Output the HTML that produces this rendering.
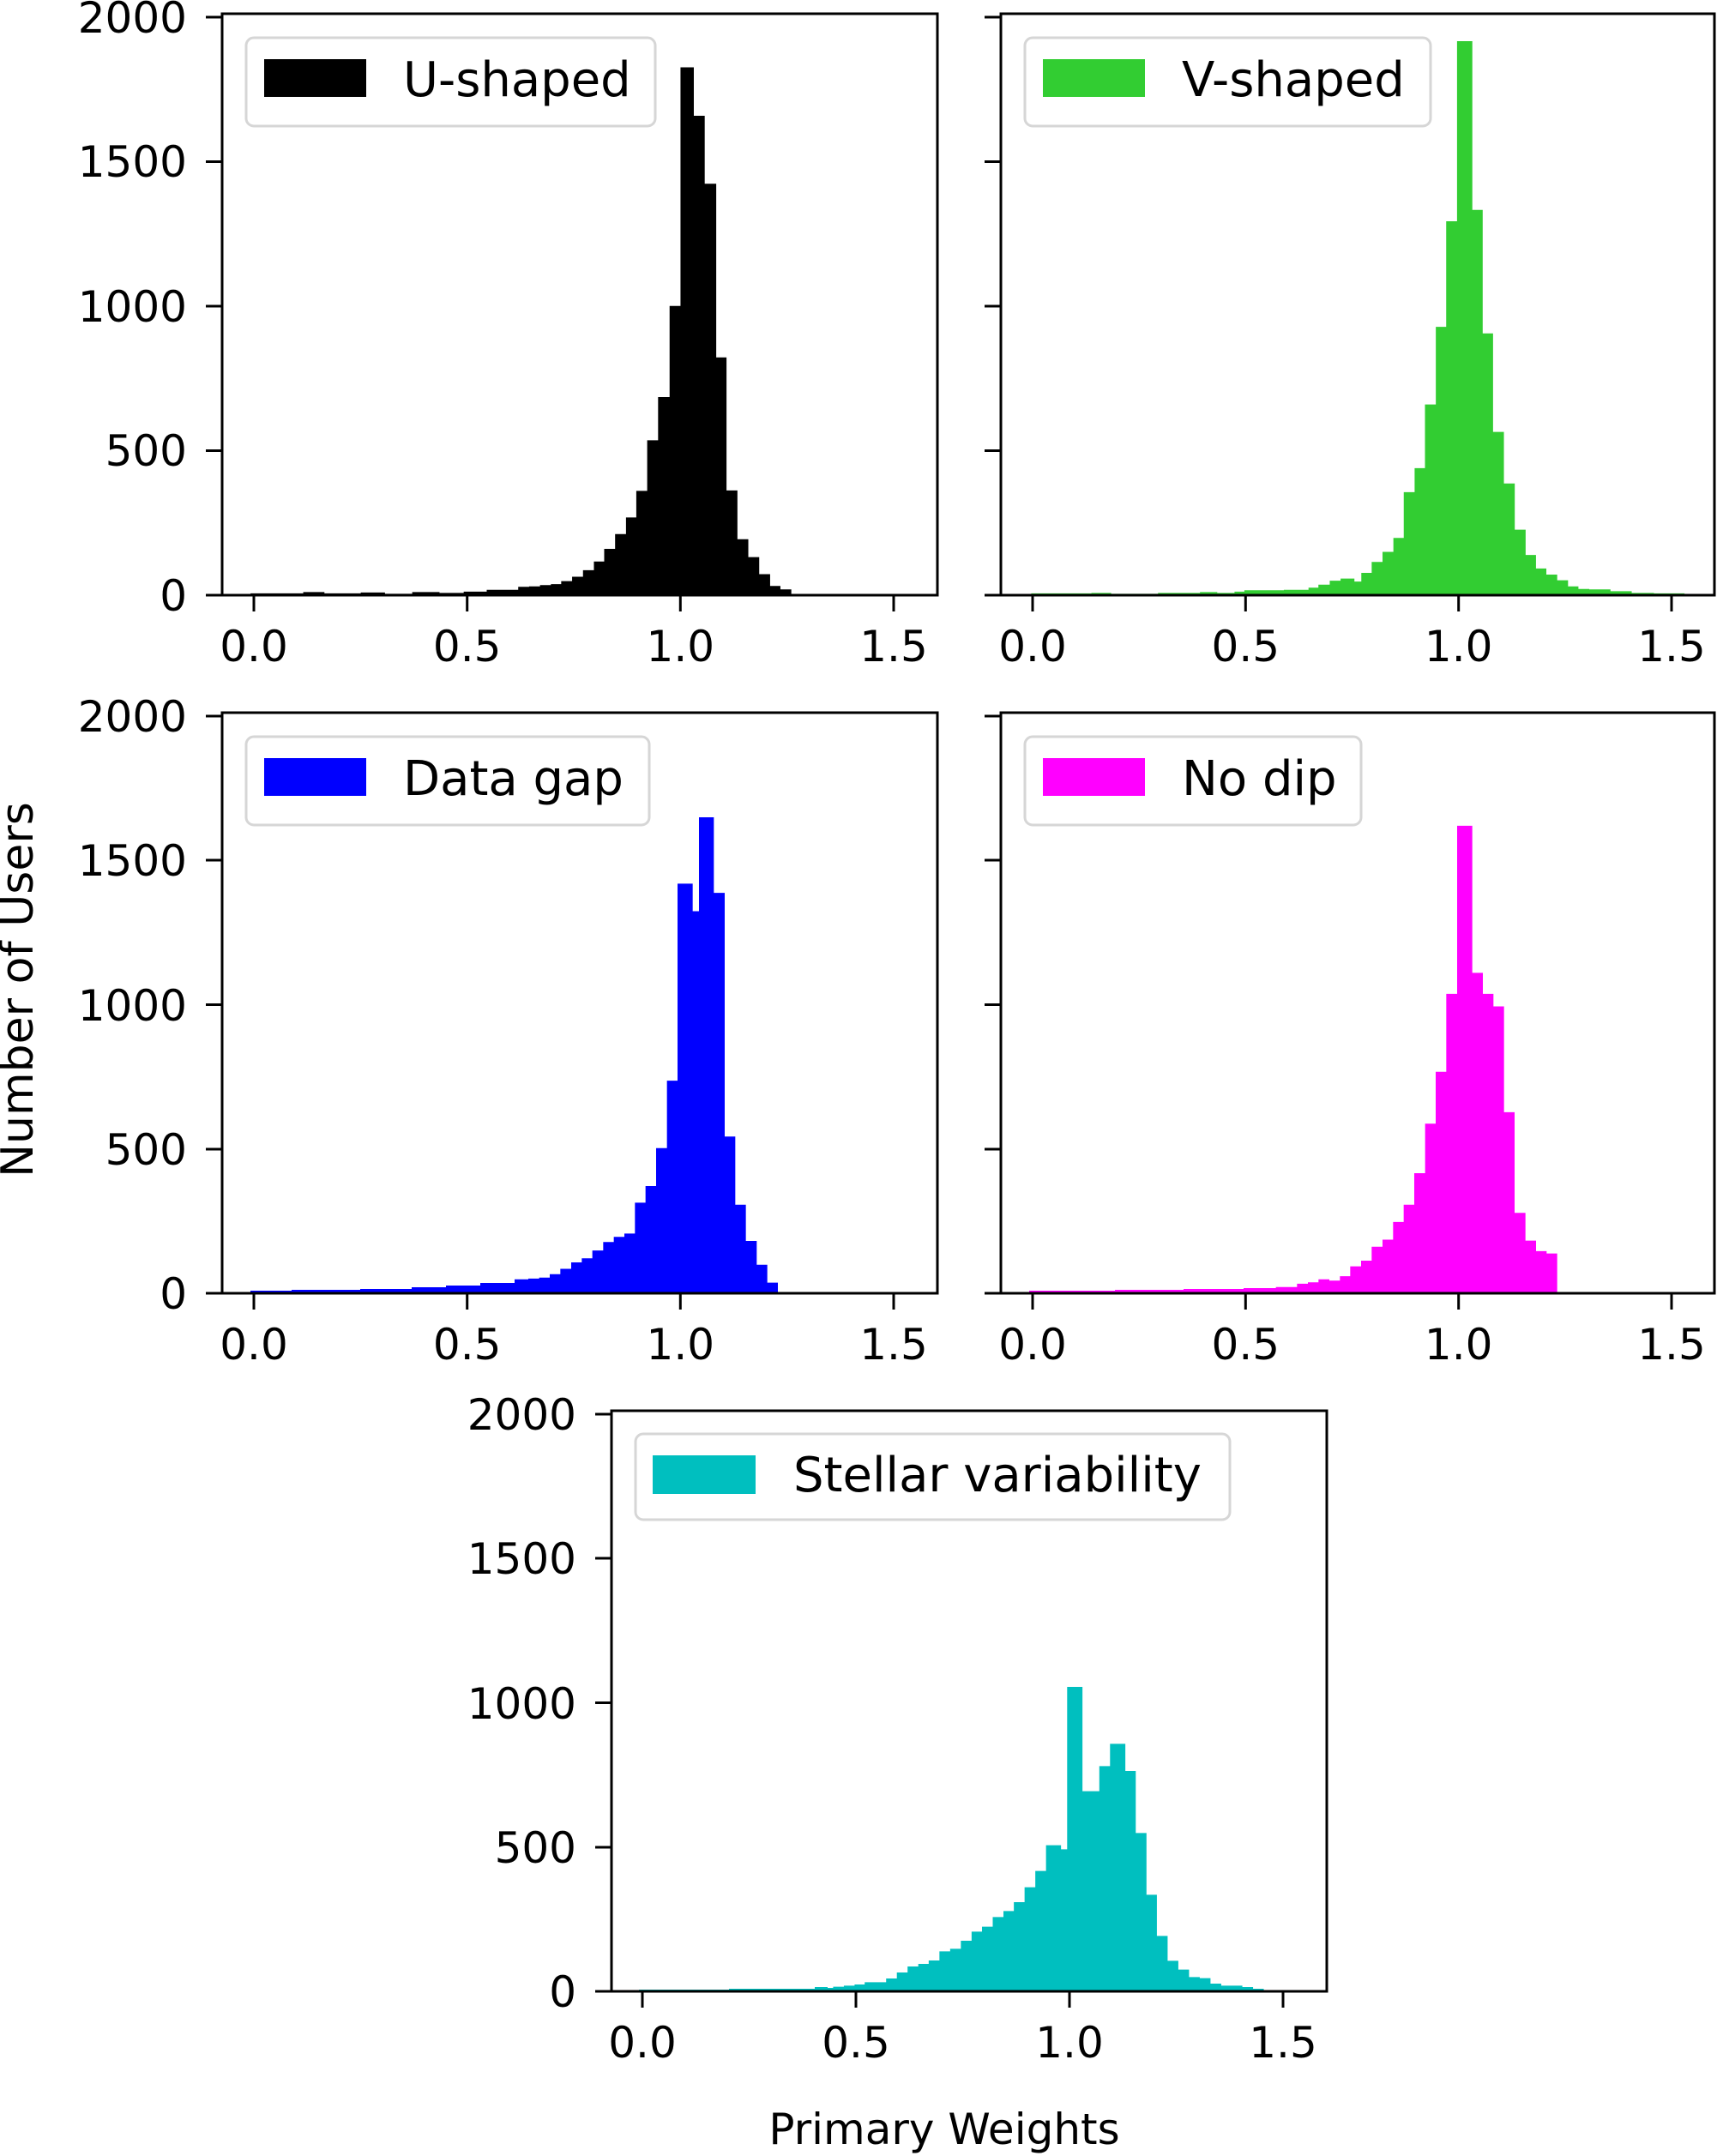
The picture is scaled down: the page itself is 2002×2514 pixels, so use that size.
<!DOCTYPE html>
<html><head><meta charset="utf-8"><style>
html,body{margin:0;padding:0;background:#fff;}
svg{display:block;}
text{font-family:"DejaVu Sans","Liberation Sans",sans-serif;fill:#000;}
.t{font-size:50px;}
.lg{font-size:56px;}
</style></head><body>
<svg width="2002" height="2514" viewBox="0 0 2002 2514" xmlns="http://www.w3.org/2000/svg">
<rect width="2002" height="2514" fill="#fff"/>

<g transform="translate(-3,2.2) scale(0.70607,0.5086)">
<path fill="#000" d="M 418 1360 V 1356 H 505 V 1353 H 540 V 1356 H 600 V 1354 H 640 V 1357 H 685 V 1353 H 730 V 1355 H 770 V 1352 H 808 V 1348 H 860 V 1341 H 878 V 1340 H 896 V 1337 H 914 V 1335 H 931 V 1328 H 949 V 1318 H 967 V 1303 H 985 V 1283 H 1002 V 1254 H 1020 V 1220 H 1038 V 1182 H 1055 V 1121 H 1073 V 1005 H 1091 V 906 H 1110 V 697 H 1128 V 150 H 1150 V 261 H 1168 V 417 H 1187 V 815 H 1204 V 1120 H 1222 V 1232 H 1240 V 1273 H 1258 V 1312 H 1276 V 1339 H 1293 V 1347 H 1311 V 1358 H 1500 V 1360 Z"/>
</g>
<g transform="translate(1100,2.2) scale(0.5753,0.5086)">
<path fill="#32cd32" d="M 178 1360 V 1356 H 300 V 1355 H 340 V 1357 H 435 V 1355 H 520 V 1353 H 555 V 1355 H 590 V 1352 H 610 V 1349 H 690 V 1348 H 740 V 1343 H 760 V 1336 H 783 V 1327 H 805 V 1322 H 833 V 1329 H 847 V 1309 H 868 V 1284 H 890 V 1261 H 912 V 1229 H 933 V 1124 H 955 V 1069 H 976 V 923 H 998 V 745 H 1019 V 503 H 1041 V 90 H 1072 V 477 H 1093 V 760 H 1114 V 986 H 1136 V 1104 H 1158 V 1210 H 1180 V 1268 H 1201 V 1299 H 1222 V 1313 H 1244 V 1326 H 1266 V 1340 H 1287 V 1346 H 1309 V 1347 H 1352 V 1351 H 1395 V 1355 H 1440 V 1356 H 1502 V 1360 Z"/>
</g>
<path fill="#0000ff" d="M 292 1508 V 1505 H 340 V 1504 H 420 V 1503 H 480 V 1501 H 520 V 1499 H 560 V 1496 H 601 V 1508 Z"/>
<g transform="translate(600,900) scale(0.33333,0.39526)">
<path fill="#0000ff" d="M 0 1535 V 1497 H 48 V 1495 H 86 V 1492 H 123 V 1482 H 160 V 1466 H 198 V 1447 H 235 V 1435 H 272 V 1412 H 310 V 1387 H 347 V 1372 H 384 V 1362 H 421 V 1271 H 458 V 1222 H 495 V 1110 H 533 V 911 H 570 V 330 H 623 V 411 H 645 V 134 H 697 V 357 H 735 V 1076 H 772 V 1277 H 809 V 1384 H 847 V 1454 H 884 V 1507 H 921 V 1535 Z"/>
</g>
<path fill="#ff00ff" d="M 1200 1507 V 1505 H 1300 V 1504 H 1380 V 1503 H 1451 V 1507 Z"/>
<g transform="translate(1450,900) scale(0.33333,0.39526)">
<path fill="#ff00ff" d="M 0 1535 V 1523 H 113 V 1520 H 187 V 1510 H 225 V 1506 H 262 V 1497 H 300 V 1501 H 337 V 1488 H 373 V 1459 H 411 V 1442 H 448 V 1401 H 486 V 1380 H 523 V 1328 H 560 V 1277 H 597 V 1184 H 635 V 1038 H 672 V 885 H 709 V 655 H 747 V 159 H 800 V 593 H 837 V 655 H 874 V 692 H 911 V 1004 H 948 V 1301 H 986 V 1383 H 1023 V 1414 H 1060 V 1421 H 1097 V 1535 Z"/>
</g>
<path fill="#00bfbf" d="M 745 2322 V 2320 H 850 V 2319 H 951 V 2322 Z"/>
<g transform="translate(950,1900) scale(0.35714,0.33333)">
<path fill="#00bfbf" d="M 0 1265 V 1251 H 42 V 1254 H 60 V 1250 H 95 V 1246 H 130 V 1242 H 163 V 1234 H 233 V 1221 H 268 V 1200 H 303 V 1179 H 338 V 1170 H 372 V 1158 H 407 V 1126 H 442 V 1117 H 477 V 1089 H 512 V 1057 H 546 V 1040 H 581 V 1006 H 616 V 985 H 650 V 954 H 685 V 902 H 720 V 845 H 755 V 755 H 804 V 769 H 824 V 201 H 874 V 566 H 929 V 478 H 964 V 400 H 1014 V 495 H 1048 V 712 H 1083 V 928 H 1117 V 1072 H 1152 V 1159 H 1187 V 1190 H 1222 V 1216 H 1257 V 1220 H 1292 V 1239 H 1327 V 1246 H 1396 V 1251 H 1431 V 1257 H 1466 V 1265 Z"/>
</g>

<g fill="none" stroke="#000" stroke-width="3">
<rect x="259" y="16" width="834" height="678"/>
<rect x="1167" y="16" width="832" height="678"/>
<rect x="259" y="831" width="834" height="677"/>
<rect x="1167" y="831" width="832" height="677"/>
<rect x="713" y="1645" width="834" height="677"/>
</g>

<g stroke="#000" stroke-width="3">
<path d="M240 20H259M240 188.5H259M240 357H259M240 525.5H259M240 694H259"/>
<path d="M1148 20H1167M1148 188.5H1167M1148 357H1167M1148 525.5H1167M1148 694H1167"/>
<path d="M240 835H259M240 1003H259M240 1171.5H259M240 1340H259M240 1508H259"/>
<path d="M1148 835H1167M1148 1003H1167M1148 1171.5H1167M1148 1340H1167M1148 1508H1167"/>
<path d="M694 1649H713M694 1817H713M694 1985.5H713M694 2154H713M694 2322H713"/>
<path d="M296 694V713M544.7 694V713M793.3 694V713M1042 694V713"/>
<path d="M1204 694V713M1452.3 694V713M1700.7 694V713M1949 694V713"/>
<path d="M296 1508V1527M544.7 1508V1527M793.3 1508V1527M1042 1508V1527"/>
<path d="M1204 1508V1527M1452.3 1508V1527M1700.7 1508V1527M1949 1508V1527"/>
<path d="M749 2322V2341M998 2322V2341M1247 2322V2341M1496 2322V2341"/>
</g>

<g class="t" text-anchor="end">
<text x="218" y="38">2000</text><text x="218" y="206">1500</text><text x="218" y="375">1000</text><text x="218" y="543">500</text><text x="218" y="712">0</text>
<text x="218" y="853">2000</text><text x="218" y="1021">1500</text><text x="218" y="1190">1000</text><text x="218" y="1358">500</text><text x="218" y="1526">0</text>
<text x="672" y="1667">2000</text><text x="672" y="1835">1500</text><text x="672" y="2004">1000</text><text x="672" y="2172">500</text><text x="672" y="2340">0</text>
</g>
<g class="t" text-anchor="middle">
<text x="296" y="771">0.0</text><text x="544.7" y="771">0.5</text><text x="793.3" y="771">1.0</text><text x="1042" y="771">1.5</text>
<text x="1204" y="771">0.0</text><text x="1452.3" y="771">0.5</text><text x="1700.7" y="771">1.0</text><text x="1949" y="771">1.5</text>
<text x="296" y="1585">0.0</text><text x="544.7" y="1585">0.5</text><text x="793.3" y="1585">1.0</text><text x="1042" y="1585">1.5</text>
<text x="1204" y="1585">0.0</text><text x="1452.3" y="1585">0.5</text><text x="1700.7" y="1585">1.0</text><text x="1949" y="1585">1.5</text>
<text x="749" y="2399">0.0</text><text x="998" y="2399">0.5</text><text x="1247" y="2399">1.0</text><text x="1496" y="2399">1.5</text>
</g>

<g stroke="#d6d6d6" stroke-width="3" fill="#fff" fill-opacity="0.8">
<rect x="287" y="44" width="477" height="103" rx="9"/>
<rect x="1195" y="44" width="473" height="103" rx="9"/>
<rect x="287" y="859" width="470" height="103" rx="9"/>
<rect x="1195" y="859" width="392" height="103" rx="9"/>
<rect x="741" y="1672" width="693" height="100" rx="9"/>
</g>
<rect x="308" y="69" width="119" height="44" fill="#000"/>
<rect x="1216" y="69" width="119" height="44" fill="#32cd32"/>
<rect x="308" y="884" width="119" height="44" fill="#0000ff"/>
<rect x="1216" y="884" width="119" height="44" fill="#ff00ff"/>
<rect x="761" y="1697" width="120" height="45" fill="#00bfbf"/>
<g class="lg">
<text x="470" y="112">U-shaped</text>
<text x="1378" y="112">V-shaped</text>
<text x="470" y="927">Data gap</text>
<text x="1378" y="927">No dip</text>
<text x="925" y="1739">Stellar variability</text>
</g>

<text x="1101" y="2500" font-size="50" text-anchor="middle">Primary Weights</text>
<text transform="translate(38,1154) rotate(-90)" font-size="52" text-anchor="middle">Number of Users</text>
</svg>
</body></html>
